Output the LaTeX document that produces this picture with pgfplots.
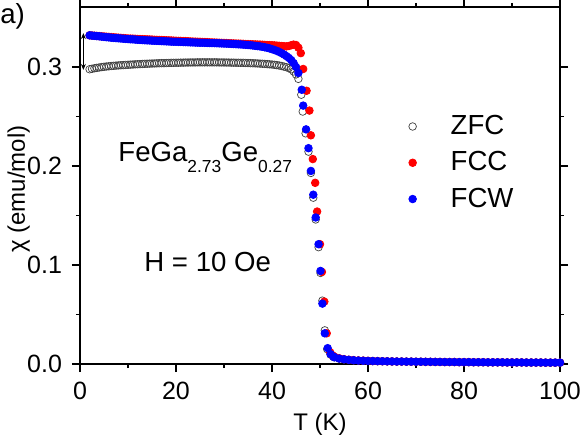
\documentclass[border=0pt]{standalone}
\usepackage{fontspec}
\setmainfont{Liberation Sans}
\usepackage{pgfplots}
\pgfplotsset{compat=1.18}
\usetikzlibrary{arrows.meta}

\newcommand{\tickfont}{\fontsize{12.5}{15}\selectfont}
\newcommand{\labfont}{\fontsize{12}{14}\selectfont}
\newcommand{\txtfont}{\fontsize{13.8}{16}\selectfont}
\newcommand{\subs}[1]{\raisebox{-5.5pt}{\fontsize{8.7}{10}\selectfont #1}}

\pgfplotsset{dotlegend/.style={legend image code/.code={%
  \path[draw=none, fill=none] (0pt,-3pt) rectangle (20pt,3pt);
  \draw[mark repeat=2,mark phase=2,##1] plot coordinates {(0pt,0pt)(10pt,0pt)(20pt,0pt)};}}}

\begin{document}
\begin{tikzpicture}
\begin{axis}[
  scale only axis, width=240pt, height=178.5pt,
  xmin=0, xmax=100, ymin=0, ymax=0.3606,
  clip=false,
  xtick={0,20,40,60,80,100}, ytick={0,0.1,0.2,0.3},
  minor x tick num=1, minor y tick num=1,
  tick align=outside, major tick length=4pt, minor tick length=2pt,
  axis line style={line width=0.6pt},
  every tick/.style={black, line width=0.6pt},
  tick label style={font=\tickfont},
  /pgf/number format/assume math mode=true,
  yticklabel style={xshift=-1.5pt, /pgf/number format/fixed,
    /pgf/number format/fixed zerofill, /pgf/number format/precision=1},
  xticklabel style={yshift=-1.5pt},
  xlabel={T (K)}, ylabel={χ (emu/mol)},
  label style={font=\labfont},
  xlabel style={at={(axis description cs:0.5,-0.185)}, anchor=base},
  ylabel style={at={(axis description cs:-0.115,0.49)}, anchor=base},
  legend style={at={(axis description cs:0.638,0.72)}, anchor=north west,
    draw=none, fill=none, font=\txtfont, row sep=3pt, column sep=7pt},
  legend cell align=left,
  mark size=1.9pt,
]
\coordinate (SW) at (rel axis cs:0,0);
\coordinate (NE) at (rel axis cs:1,1);

% ZFC
\addplot[only marks, dotlegend, mark=o, mark options={draw=black!75, fill=white, line width=0.35pt}]
coordinates {
(2.0,.2977)(2.5,.2982)(3.0,.2987)(3.5,.2991)(4.0,.2995)(4.5,.2999)(5.0,.3002)(5.5,.3005)
(6.0,.3007)(6.5,.3010)(7.0,.3012)(7.5,.3014)(8.0,.3016)(8.5,.3018)(9.0,.3019)(9.5,.3021)
(10.0,.3022)(10.5,.3024)(11.0,.3025)(11.5,.3027)(12.0,.3028)(12.5,.3029)(13.0,.3031)(13.5,.3032)
(14.0,.3033)(14.5,.3034)(15.0,.3035)(15.5,.3036)(16.0,.3037)(16.5,.3038)(17.0,.3039)(17.5,.3039)
(18.0,.3040)(18.5,.3041)(19.0,.3042)(19.5,.3042)(20.0,.3043)(20.5,.3043)(21.0,.3044)(21.5,.3044)
(22.0,.3045)(22.5,.3045)(23.0,.3046)(23.5,.3046)(24.0,.3046)(24.5,.3047)(25.0,.3047)(25.5,.3047)
(26.0,.3047)(26.5,.3047)(27.0,.3047)(27.5,.3047)(28.0,.3047)(28.5,.3047)(29.0,.3046)(29.5,.3046)
(30.0,.3046)(30.5,.3045)(31.0,.3045)(31.5,.3044)(32.0,.3044)(32.5,.3043)(33.0,.3043)(33.5,.3042)
(34.0,.3042)(34.5,.3041)(35.0,.3040)(35.5,.3039)(36.0,.3038)(36.5,.3037)(37.0,.3036)(37.5,.3034)
(38.0,.3033)(38.5,.3031)(39.0,.3029)(39.5,.3027)(40.0,.3025)(40.5,.3022)(41.0,.3019)(41.5,.3015)
(42.0,.3010)(42.5,.3004)(43.0,.2998)(43.5,.2989)(44.0,.2977)(44.5,.2955)(45.0,.2925)(45.5,.2880)
(46.1,.2720)(46.4,.2550)(47.0,.2330)(47.6,.2145)(48.1,.1930)(48.6,.1680)(49.1,.1460)(49.7,.1180)
(50.1,.0920)(50.5,.0640)(51.0,.0340)(51.5,.0150)(52.2,.0095)(52.8,.0072)
(53,.0068)(54,.0055)(55,.0047)(56,.0042)(57,.0038)(58,.0035)(59,.0033)(60,.0031)
(61,.0030)(62,.0029)(63,.0028)(64,.0027)(65,.0026)(66,.0025)(67,.0025)(68,.0024)
(69,.0024)(70,.0023)(71,.0023)(72,.0022)(73,.0022)(74,.0021)(75,.0021)(76,.0020)
(77,.0020)(78,.0020)(79,.0019)(80,.0019)(81,.0019)(82,.0018)(83,.0018)(84,.0018)
(85,.0017)(86,.0017)(87,.0017)(88,.0017)(89,.0016)(90,.0016)(91,.0016)(92,.0016)
(93,.0015)(94,.0015)(95,.0015)(96,.0015)(97,.0014)(98,.0014)(99,.0014)(100,.0014)
};

% FCC
\addplot[only marks, dotlegend, mark=*, mark options={draw=red, fill=red}]
coordinates {
(2.0,.3320)(2.5,.3318)(3.0,.3316)(3.5,.3314)(4.0,.3312)(4.5,.3310)(5.0,.3308)(5.5,.3306)
(6.0,.3304)(6.5,.3302)(7.0,.3300)(7.5,.3298)(8.0,.3296)(8.5,.3294)(9.0,.3292)(9.5,.3290)
(10.0,.3288)(10.5,.3287)(11.0,.3286)(11.5,.3285)(12.0,.3283)(12.5,.3282)(13.0,.3281)(13.5,.3280)
(14.0,.3279)(14.5,.3278)(15.0,.3277)(15.5,.3275)(16.0,.3274)(16.5,.3273)(17.0,.3272)(17.5,.3271)
(18.0,.3270)(18.5,.3269)(19.0,.3268)(19.5,.3266)(20.0,.3265)(20.5,.3264)(21.0,.3263)(21.5,.3262)
(22.0,.3261)(22.5,.3260)(23.0,.3258)(23.5,.3257)(24.0,.3256)(24.5,.3255)(25.0,.3254)(25.5,.3253)
(26.0,.3252)(26.5,.3251)(27.0,.3249)(27.5,.3248)(28.0,.3247)(28.5,.3246)(29.0,.3245)(29.5,.3244)
(30.0,.3243)(30.5,.3242)(31.0,.3240)(31.5,.3239)(32.0,.3238)(32.5,.3237)(33.0,.3236)(33.5,.3235)
(34.0,.3234)(34.5,.3232)(35.0,.3231)(35.5,.3230)(36.0,.3229)(36.5,.3228)(37.0,.3227)(37.5,.3226)
(38.0,.3225)(38.5,.3223)(39.0,.3222)(39.5,.3221)(40.0,.3220)(40.5,.3218)(41.0,.3216)(41.5,.3214)
(42.0,.3212)(42.5,.3210)(43.0,.3208)(43.5,.3212)(44.0,.3220)(44.5,.3226)(45.0,.3222)(45.5,.3195)
(46.0,.3140)(46.5,.2980)(47.2,.2760)(47.8,.2560)(48.1,.2310)(48.5,.2070)(49.0,.1830)(49.4,.1540)
(50.0,.1210)(50.4,.0930)(50.9,.0630)(51.4,.0310)(52.1,.0120)(52.6,.0088)
(53,.0074)(54,.0058)(55,.0049)(56,.0043)(57,.0039)(58,.0036)(59,.0034)(60,.0032)
(61,.0030)(62,.0029)(63,.0028)(64,.0027)(65,.0026)(66,.0025)(67,.0025)(68,.0024)
(69,.0024)(70,.0023)(71,.0023)(72,.0022)(73,.0022)(74,.0021)(75,.0021)(76,.0020)
(77,.0020)(78,.0020)(79,.0019)(80,.0019)(81,.0019)(82,.0018)(83,.0018)(84,.0018)
(85,.0017)(86,.0017)(87,.0017)(88,.0017)(89,.0016)(90,.0016)(91,.0016)(92,.0016)
(93,.0015)(94,.0015)(95,.0015)(96,.0015)(97,.0014)(98,.0014)(99,.0014)(100,.0014)
};

% FCW
\addplot[only marks, dotlegend, mark=*, mark options={draw=blue, fill=blue}]
coordinates {
(2.0,.3320)(2.5,.3317)(3.0,.3315)(3.5,.3312)(4.0,.3310)(4.5,.3307)(5.0,.3304)(5.5,.3301)
(6.0,.3299)(6.5,.3296)(7.0,.3294)(7.5,.3292)(8.0,.3290)(8.5,.3288)(9.0,.3286)(9.5,.3284)
(10.0,.3282)(10.5,.3280)(11.0,.3279)(11.5,.3277)(12.0,.3275)(12.5,.3273)(13.0,.3272)(13.5,.3270)
(14.0,.3269)(14.5,.3268)(15.0,.3266)(15.5,.3265)(16.0,.3264)(16.5,.3263)(17.0,.3261)(17.5,.3260)
(18.0,.3259)(18.5,.3258)(19.0,.3256)(19.5,.3255)(20.0,.3255)(20.5,.3254)(21.0,.3253)(21.5,.3252)
(22.0,.3251)(22.5,.3250)(23.0,.3249)(23.5,.3248)(24.0,.3247)(24.5,.3246)(25.0,.3245)(25.5,.3245)
(26.0,.3244)(26.5,.3243)(27.0,.3242)(27.5,.3242)(28.0,.3241)(28.5,.3240)(29.0,.3239)(29.5,.3238)
(30.0,.3237)(30.5,.3236)(31.0,.3235)(31.5,.3234)(32.0,.3232)(32.5,.3231)(33.0,.3229)(33.5,.3228)
(34.0,.3226)(34.5,.3224)(35.0,.3222)(35.5,.3220)(36.0,.3217)(36.5,.3214)(37.0,.3211)(37.5,.3208)
(38.0,.3204)(38.5,.3199)(39.0,.3194)(39.5,.3188)(40.0,.3180)(40.5,.3172)(41.0,.3163)(41.5,.3152)
(42.0,.3140)(42.5,.3126)(43.0,.3110)(43.5,.3092)(44.0,.3070)(44.5,.3040)(45.0,.3000)(45.5,.2940)
(46.2,.2770)(46.5,.2610)(47.1,.2370)(47.6,.2180)(48.1,.1950)(48.6,.1710)(49.1,.1480)(49.7,.1210)
(50.1,.0940)(50.5,.0610)(51.0,.0310)(51.6,.0160)(52.2,.0100)(52.8,.0075)
(53,.0068)(54,.0055)(55,.0047)(56,.0042)(57,.0038)(58,.0035)(59,.0033)(60,.0031)
(61,.0030)(62,.0029)(63,.0028)(64,.0027)(65,.0026)(66,.0025)(67,.0025)(68,.0024)
(69,.0024)(70,.0023)(71,.0023)(72,.0022)(73,.0022)(74,.0021)(75,.0021)(76,.0020)
(77,.0020)(78,.0020)(79,.0019)(80,.0019)(81,.0019)(82,.0018)(83,.0018)(84,.0018)
(85,.0017)(86,.0017)(87,.0017)(88,.0017)(89,.0016)(90,.0016)(91,.0016)(92,.0016)
(93,.0015)(94,.0015)(95,.0015)(96,.0015)(97,.0014)(98,.0014)(99,.0014)(100,.0014)
};
\legend{ZFC, FCC, FCW}

\draw[{Stealth[length=3pt,width=2.4pt]}-{Stealth[length=3pt,width=2.4pt]}, line width=0.45pt]
  (axis cs:0.7,0.3343) -- (axis cs:0.7,0.2970);
\node[anchor=base west, inner sep=0pt, font=\txtfont] at (axis cs:7.92,0.205)
  {FeGa\subs{2.73}Ge\subs{0.27}};
\node[anchor=base west, inner sep=0pt, font=\txtfont] at (axis cs:13.33,0.0939) {H = 10 Oe};
\node[anchor=base west, inner sep=0pt, font=\txtfont] at (axis description cs:-0.1667,0.955) {a)};
\end{axis}
\pgfresetboundingbox
\path ([shift={(-40pt,-41pt)}]SW) rectangle ([shift={(10.5pt,3.5pt)}]NE);
\end{tikzpicture}
\end{document}
